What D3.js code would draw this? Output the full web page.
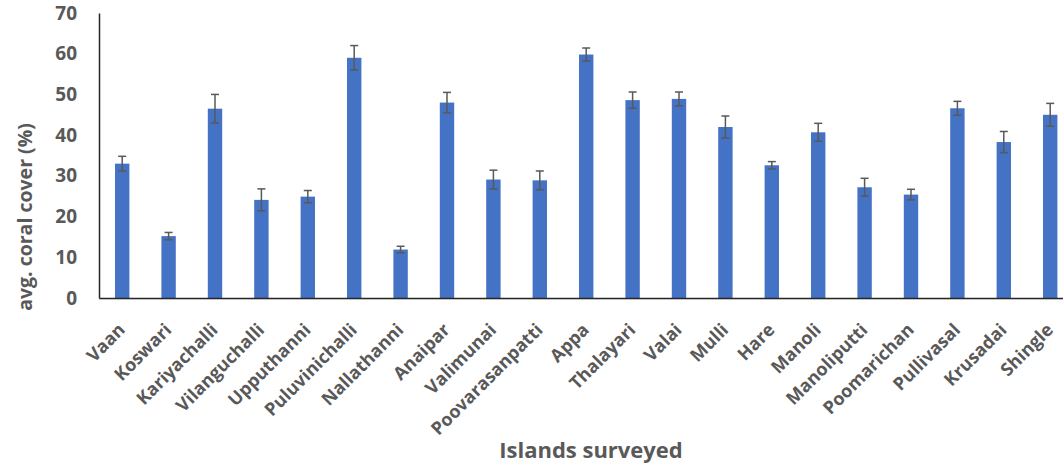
<!DOCTYPE html>
<html><head><meta charset="utf-8">
<script src="https://cdn.jsdelivr.net/npm/d3@7"></script>
<style>body{margin:0;background:#fff}svg{display:block}</style>
</head><body>
<script>
const islands = ["Vaan","Koswari","Kariyachalli","Vilanguchalli","Upputhanni","Puluvinichalli","Nallathanni","Anaipar","Valimunai","Poovarasanpatti","Appa","Thalayari","Valai","Mulli","Hare","Manoli","Manoliputti","Poomarichan","Pullivasal","Krusadai","Shingle"];
const coverValues = [33.0,15.2,46.5,24.1,24.9,59.0,11.9,48.0,29.1,28.9,59.8,48.6,48.9,42.0,32.6,40.7,27.2,25.4,46.6,38.3,45.0];
const errorValues = [1.8,0.9,3.5,2.7,1.5,3.0,0.8,2.5,2.3,2.3,1.6,2.0,1.7,2.7,0.9,2.2,2.2,1.3,1.7,2.6,2.8];
const yTicks = [0,10,20,30,40,50,60,70];
const xTitle = "Islands surveyed";
const yTitle = "avg. coral cover (%)";

const W = 1063, H = 467;
const mLeft = 99, mTop = 13, mBottom = 298;
const svg = d3.select("body").append("svg").attr("width", W).attr("height", H);
const font = "'Open Sans', sans-serif";
const gray = "#595959";

const x = d3.scaleBand().domain(islands).range([mLeft, mLeft + 21*46.4]).paddingInner(0.69).paddingOuter(0.345);
const y = d3.scaleLinear().domain([0,70]).range([mBottom, mTop]);

// bars
svg.append("g").selectAll("rect").data(islands).join("rect")
  .attr("x", d => x(d)).attr("width", x.bandwidth())
  .attr("y", (d,i) => y(coverValues[i])).attr("height", (d,i) => mBottom - y(coverValues[i]))
  .attr("fill", "#4472C4");

// error bars
const eg = svg.append("g").attr("stroke", gray).attr("stroke-width", 1.5);
islands.forEach((d,i) => {
  const cx = x(d) + x.bandwidth()/2;
  const hi = y(coverValues[i] + errorValues[i]), lo = y(coverValues[i] - errorValues[i]);
  eg.append("line").attr("x1", cx).attr("x2", cx).attr("y1", hi).attr("y2", lo);
  eg.append("line").attr("x1", cx-4).attr("x2", cx+4).attr("y1", hi).attr("y2", hi);
  eg.append("line").attr("x1", cx-4).attr("x2", cx+4).attr("y1", lo).attr("y2", lo);
});

// y axis
const ya = svg.append("g").attr("transform", `translate(${mLeft},0)`)
  .call(d3.axisLeft(y).tickValues(yTicks).tickSize(0).tickPadding(22));
ya.select(".domain").attr("stroke", "#262626").attr("stroke-width", 1.5);
ya.selectAll("text").attr("font-family", font).attr("font-weight", "bold")
  .attr("font-size", 19).attr("fill", gray);

// x axis
const xa = svg.append("g").attr("transform", `translate(0,${mBottom})`)
  .call(d3.axisBottom(x).tickSize(0).tickFormat(""));
xa.select(".domain").attr("stroke", "#262626").attr("stroke-width", 1.5);
svg.append("line").attr("x1", mLeft).attr("x2", W).attr("y1", mBottom+1.5).attr("y2", mBottom+1.5)
  .attr("stroke", "#bfbfbf").attr("stroke-width", 1);

svg.append("g").selectAll("text").data(islands).join("text")
  .attr("transform", d => `translate(${x(d) + x.bandwidth()/2 + 4},${mBottom + 33}) rotate(-45)`)
  .attr("text-anchor", "end")
  .attr("font-family", font).attr("font-weight", "bold").attr("font-size", 18).attr("fill", gray)
  .text(d => d);

svg.append("text").attr("x", 591).attr("y", 458).attr("text-anchor", "middle")
  .attr("font-family", font).attr("font-weight", "bold").attr("font-size", 22).attr("fill", gray)
  .text(xTitle);

svg.append("text").attr("transform", `translate(32,217) rotate(-90)`).attr("text-anchor", "middle")
  .attr("font-family", font).attr("font-weight", "bold").attr("font-size", 19.5).attr("fill", gray)
  .text(yTitle);
</script>
</body></html>
